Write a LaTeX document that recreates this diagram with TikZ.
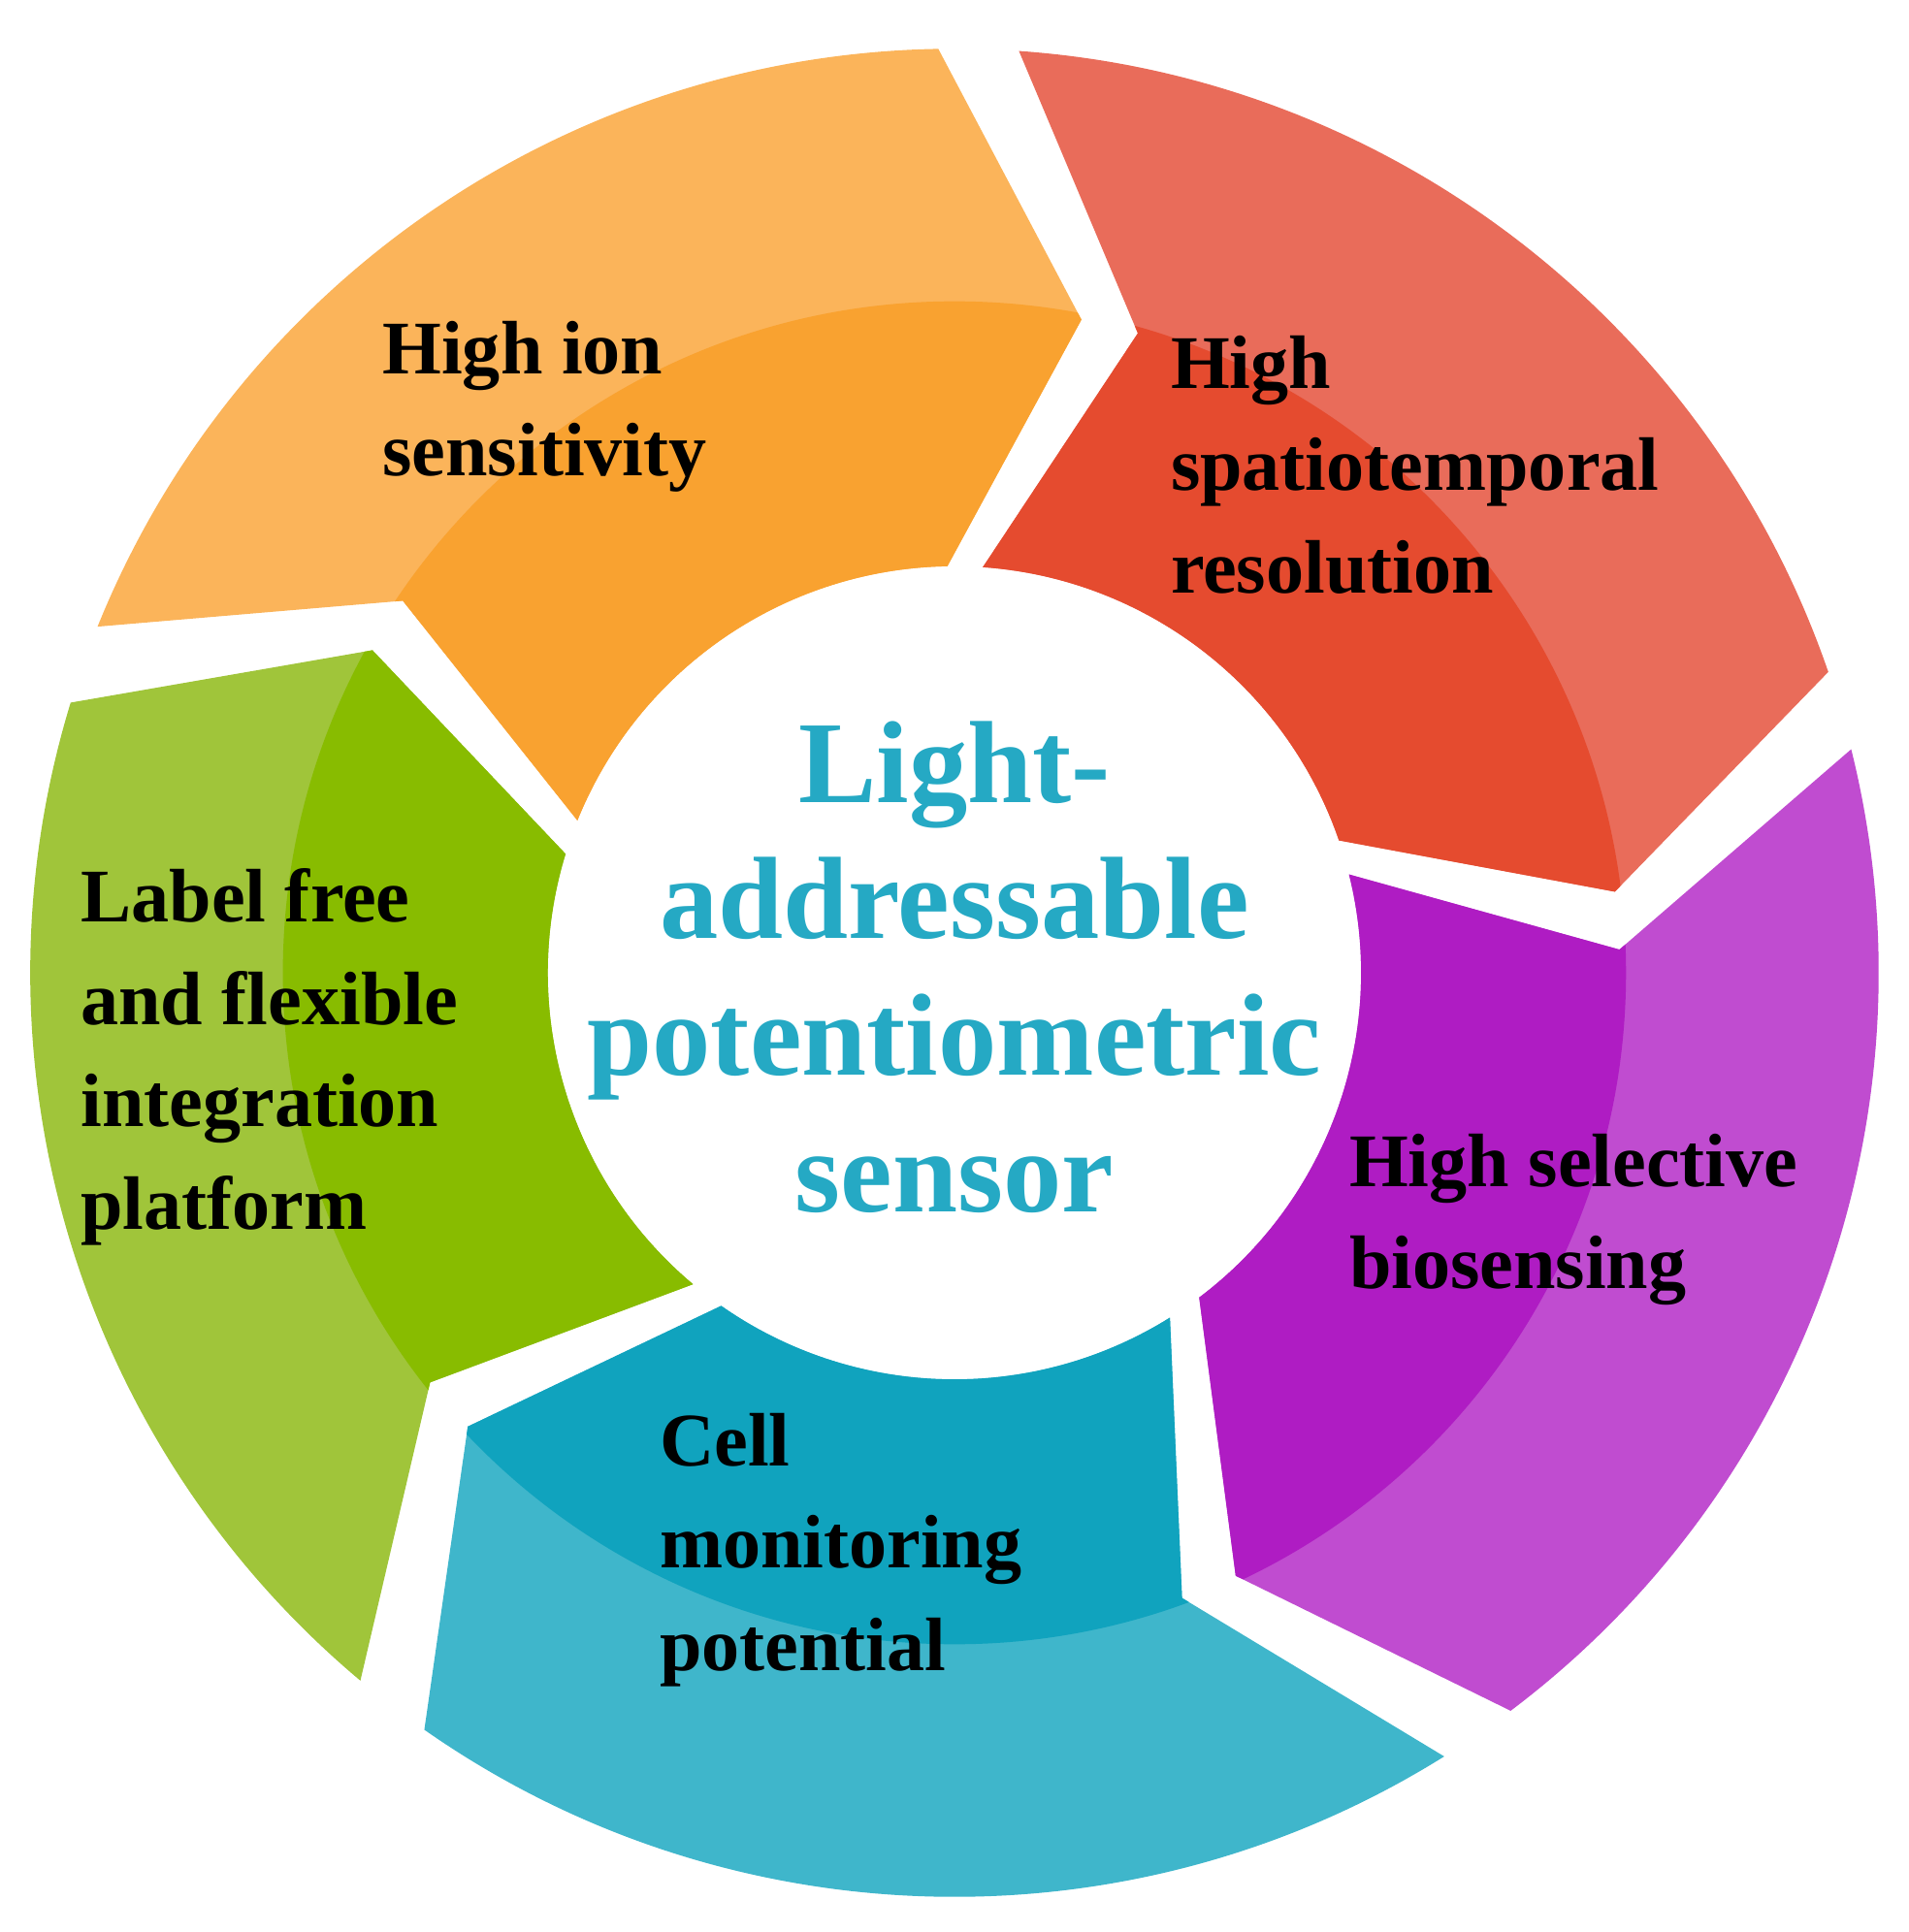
\documentclass[tikz,border=0pt]{standalone}
\usepackage{fontspec}
\setmainfont{Liberation Serif}
\begin{document}
\begin{tikzpicture}[x=0.01cm,y=-0.01cm,
  lab/.style={anchor=north west,inner sep=0pt,align=left,font=\bfseries\fontsize{17.5}{23.6}\selectfont,text=black},
  ctr/.style={anchor=north,inner sep=0pt,align=center,font=\bfseries\fontsize{27}{31.5}\selectfont,text=ctrc}]
\definecolor{ctrc}{HTML}{25A9C4}
\definecolor{oL}{HTML}{FBB45A}\definecolor{oD}{HTML}{F9A230}
\definecolor{rL}{HTML}{E96C5A}\definecolor{rD}{HTML}{E54B2F}
\definecolor{pL}{HTML}{C04CD0}\definecolor{pD}{HTML}{AF1CC3}
\definecolor{cL}{HTML}{3FB6CB}\definecolor{cD}{HTML}{10A3BE}
\definecolor{gL}{HTML}{A0C53A}\definecolor{gD}{HTML}{88BC00}
\useasboundingbox (0,0) rectangle (1550,1569);
\coordinate (C) at (775,790);
\newcommand{\segpath}[2]{(#1:7.5cm) arc[start angle=#1,end angle=#1-67,radius=7.5cm] -- (#1-79:5.4cm) -- (#1-67:3.3cm) arc[start angle=#1-67,end angle=#1,radius=3.3cm] -- (#1-12:5.4cm) -- cycle}
\newcommand{\seg}[3]{%
  \begin{scope}[shift={(C)},x=1cm,y=1cm]
    \fill[#2] \segpath{#1}{};
    \begin{scope}
      \clip \segpath{#1}{};
      \fill[#3] (0,0) circle[radius=5.45cm];
    \end{scope}
  \end{scope}}
\seg{158}{oL}{oD}
\seg{86}{rL}{rD}
\seg{14}{pL}{pD}
\seg{-58}{cL}{cD}
\seg{-130}{gL}{gD}
\node[lab] (t1) at (310,260) {High ion\\sensitivity};
\node[lab] (t2) at (950,272) {High\\spatiotemporal\\resolution};
\node[lab] (t3) at (1095,920) {High selective\\biosensing};
\node[lab] (t4) at (535,1147) {Cell\\monitoring\\potential};
\node[lab] (t5) at (65,705) {Label free\\and flexible\\integration\\platform};
\node[ctr] (c) at (775,585) {Light-\\addressable\\potentiometric\\sensor};
\end{tikzpicture}
\end{document}
